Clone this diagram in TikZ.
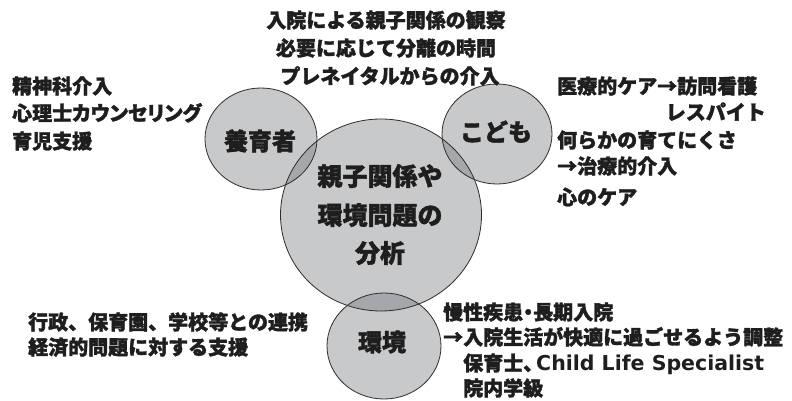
\documentclass[tikz,border=0pt]{standalone}
\usepackage{fontspec}
\setmainfont{Noto Sans CJK JP}[FakeBold=1.6]
\newfontfamily\jpp{Noto Sans CJK JP}[FakeBold=1.6, RawFeature=+palt]
\newfontfamily\lat{DejaVu Sans}
\definecolor{cfill}{RGB}{200,201,203}
\definecolor{cover}{RGB}{166,167,170}
\definecolor{cline}{RGB}{45,45,45}
\definecolor{txt}{RGB}{30,30,30}
\begin{document}
\begin{tikzpicture}[x=1pt,y=-1pt,
  lbl/.style={inner sep=0pt, anchor=west, text=txt,
    font=\bfseries\fontsize{20}{24}\selectfont, text height=17.6pt, text depth=2.4pt},
  lblc/.style={lbl, anchor=center},
  lble/.style={lbl, anchor=east},
  circlbl/.style={inner sep=0pt, anchor=center, text=txt,
    font=\bfseries\fontsize{24}{28}\selectfont, text height=21.1pt, text depth=2.9pt},
  biglbl/.style={inner sep=0pt, anchor=center, text=txt,
    font=\bfseries\fontsize{25}{30}\selectfont, text height=22pt, text depth=3pt},
  ring/.style={draw=cline, line width=0.8pt}]
\useasboundingbox (0,0) rectangle (792,401);
\fill[white] (0,0) rectangle (792,401);
% filled shapes
\def\shA{(261,139) ellipse [x radius=56, y radius=51]}
\def\shB{(497,134) ellipse [x radius=55, y radius=50]}
\def\shC{(381,215) ellipse [x radius=100.5, y radius=96]}
\def\shD{(384,346) ellipse [x radius=57, y radius=53]}
\fill[cfill] \shA; \fill[cfill] \shB; \fill[cfill] \shC; \fill[cfill] \shD;
\begin{scope}
  \clip \shC;
  \fill[cover] \shA; \fill[cover] \shB; \fill[cover] \shD;
\end{scope}
\draw[ring] \shA; \draw[ring] \shB; \draw[ring] \shC; \draw[ring] \shD;
% circle labels
\node[circlbl] (yoiku) at (260,141) {養育者};
\node[circlbl] (kodomo) at (496,132) {こども};
\node[circlbl] (kankyo) at (382,342) {環境};
\node[biglbl] (c1) at (380,176) {親子関係や};
\node[biglbl] (c2) at (380,215) {環境問題の};
\node[biglbl] (c3) at (380,253) {分析};
% top group
\node[lblc] (t1) at (386,20) {入院による親子関係の観察};
\node[lblc] (t2) at (386,48) {必要に応じて分離の時間};
\node[lblc] (t3) at (390,76) {プレネイタルからの介入};
% left group
\node[lbl] (l1) at (12,86) {精神科介入};
\node[lbl] (l2) at (12,113) {\jpp 心理士カウンセリング};
\node[lbl] (l3) at (12,141) {育児支援};
% right group
\node[lbl] (r1) at (557,86) {医療的ケア→訪問看護};
\node[lble] (r2) at (766,112) {レスパイト};
\node[lbl] (r3) at (557,140) {何らかの育てにくさ};
\node[lbl] (r4) at (557,166) {→治療的介入};
\node[lbl] (r5) at (557,197) {心のケア};
% bottom left
\node[lbl] (bl1) at (28,322) {行政、保育園、学校等との連携};
\node[lbl] (bl2) at (28,347) {経済的問題に対する支援};
% bottom right
\node[lbl] (br1) at (443,312) {\jpp 慢性疾患・長期入院};
\node[lbl] (br2) at (443,337) {→入院生活が快適に過ごせるよう調整};
\node[lbl] (br3) at (463,363) {{\jpp 保育士、}\hspace{3pt}{\lat\bfseries\fontsize{20.5}{24}\selectfont Child Life Specialist}};
\node[lbl] (br4) at (463,388) {院内学級};
\end{tikzpicture}
\end{document}
